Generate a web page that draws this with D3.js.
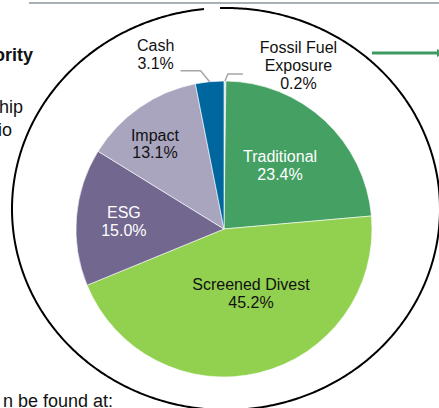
<!DOCTYPE html>
<html>
<head>
<meta charset="utf-8">
<script src="https://cdn.jsdelivr.net/npm/d3@7"></script>
<style>
  body { margin: 0; background: #fff; }
  svg { display: block; font-family: "Liberation Sans", Arial, sans-serif; }
</style>
</head>
<body>
<svg id="chart" width="439" height="408"></svg>
<script>
// ************************************
// Data
// ************************************
const categories = ["Fossil Fuel Exposure", "Traditional", "Screened Divest", "ESG", "Impact", "Cash"];
const shares = [0.2, 23.4, 45.2, 15.0, 13.1, 3.1];
const labelLines = [["Fossil Fuel", "Exposure"], ["Traditional"], ["Screened Divest"], ["ESG"], ["Impact"], ["Cash"]];
const colors = ["#c9d3de", "#45a063", "#92d050", "#71678f", "#a9a5bf", "#00669e"];
const textColors = ["#111", "#fff", "#111", "#fff", "#111", "#111"];

const data = categories.map((c, i) => ({ name: c, value: shares[i], lines: labelLines[i] }));

const svg = d3.select("#chart");
const cx = 224, cy = 229, radius = 148;
const fontSize = 16, lineGap = 17.8;

// ************************************
// Page decorations (cropped slide)
// ************************************

// grey rule at the top
svg.append("line")
    .attr("x1", 29).attr("x2", 439)
    .attr("y1", 3).attr("y2", 3)
    .attr("stroke", "#a7b0b5")
    .attr("stroke-width", 2);

// big ellipse outline with a small gap at the top
const ex = 226, ey = 209, erx = 214, ery = 201;
const gapStart = Math.asin((204 - ex) / erx), gapEnd = Math.asin((220 - ex) / erx);
const ellipsePts = d3.range(gapEnd, gapStart + 2 * Math.PI, 0.01).concat([gapStart + 2 * Math.PI])
    .map(t => [ex + erx * Math.sin(t), ey - ery * Math.cos(t)]);
svg.append("path")
    .attr("d", d3.line()(ellipsePts))
    .attr("fill", "none")
    .attr("stroke", "#000")
    .attr("stroke-width", 2);

// green arrow to the right
svg.append("defs").append("marker")
    .attr("id", "arrow")
    .attr("viewBox", "0 0 10 10")
    .attr("refX", 10).attr("refY", 5)
    .attr("markerWidth", 3).attr("markerHeight", 3.4)
    .attr("orient", "auto")
  .append("path")
    .attr("d", "M0,0L10,5L0,10Z")
    .attr("fill", "#3f9a61");
svg.append("line")
    .attr("x1", 372).attr("x2", 445)
    .attr("y1", 53).attr("y2", 53)
    .attr("stroke", "#3f9a61")
    .attr("stroke-width", 2.8)
    .attr("marker-end", "url(#arrow)");

// cut-off body text on the left
const sideText = [
    { t: "ority", x: 33, y: 61, w: "bold" },
    { t: "hip", x: 23, y: 113, w: "normal" },
    { t: "io", x: 12, y: 136, w: "normal" },
    { t: "n be found at:", x: 113, y: 407, w: "normal" }
];
svg.selectAll(".side")
  .data(sideText)
  .enter().append("text")
    .attr("class", "side")
    .attr("x", d => d.x).attr("y", d => d.y)
    .attr("text-anchor", "end")
    .attr("font-size", 18)
    .attr("font-weight", d => d.w)
    .attr("fill", "#111")
    .text(d => d.t);

// ************************************
// Pie
// ************************************
const pie = d3.pie().sort(null).value(d => d.value);
const arcs = pie(data);
const arc = d3.arc().innerRadius(0).outerRadius(radius);
const labelArc = d3.arc().innerRadius(radius * 0.55).outerRadius(radius * 0.55);
const outerArc = d3.arc().innerRadius(radius).outerRadius(radius);

const g = svg.append("g").attr("transform", `translate(${cx},${cy})`);

g.selectAll(".slice")
  .data(arcs)
  .enter().append("path")
    .attr("class", "slice")
    .attr("d", arc)
    .attr("fill", (d, i) => colors[i])
    .attr("stroke", "#fff")
    .attr("stroke-width", 0.6);

// label nudges from the arc centroid (inside) or leader offsets (outside)
const nudge = {
    "Traditional": [0.7, -7.3],
    "Screened Divest": [7.7, -18],
    "ESG": [-19, -4],
    "Impact": [-22.7, -21.6]
};
const outside = {
    "Cash": { elbow: [-9, -11], run: -20, text: [-54, -31] },
    "Fossil Fuel Exposure": { elbow: [3, -7], run: 15, text: [73.5, -28] }
};

arcs.forEach((d, i) => {
    const name = d.data.name;
    const pct = d3.format(".1f")(d.data.value) + "%";
    const lines = d.data.lines.concat([pct]);
    let x, y;
    if (outside[name]) {
        const o = outside[name];
        const p = outerArc.centroid(d);
        const e = [p[0] + o.elbow[0], p[1] + o.elbow[1]];
        g.append("polyline")
            .attr("points", [p, e, [e[0] + o.run, e[1]]].map(q => q.join(",")).join(" "))
            .attr("fill", "none")
            .attr("stroke", "#a6a6a6")
            .attr("stroke-width", 1.5);
        x = p[0] + o.text[0];
        y = p[1] + o.text[1];
    } else {
        const c = labelArc.centroid(d);
        x = c[0] + nudge[name][0];
        y = c[1] + nudge[name][1];
    }
    const t = g.append("text")
        .attr("text-anchor", "middle")
        .attr("font-size", fontSize)
        .attr("fill", textColors[i]);
    lines.forEach((s, k) => {
        t.append("tspan").attr("x", x).attr("y", y + k * lineGap).text(s);
    });
});
</script>
</body>
</html>
